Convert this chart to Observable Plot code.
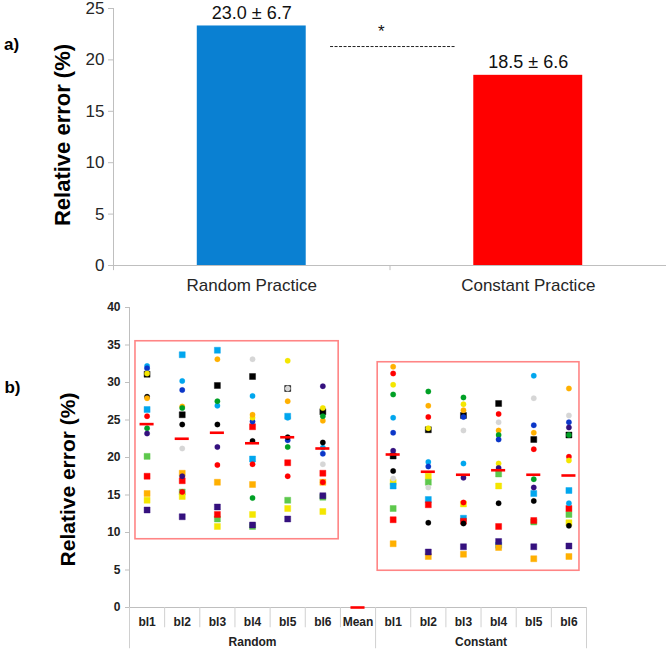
<!DOCTYPE html>
<html><head><meta charset="utf-8">
<script src="https://cdn.jsdelivr.net/npm/d3@7"></script>
<script src="https://cdn.jsdelivr.net/npm/@observablehq/plot@0.6"></script>
<style>
body{margin:0;background:#fff}
#wrap{position:relative;width:666px;height:651px;overflow:hidden;background:#fff}
#top{position:absolute;left:0;top:0}
#bot{position:absolute;left:0;top:300px}
</style>
</head><body>
<div id="wrap"><div id="top"></div><div id="bot"></div></div>
<script>
// ---------- Panel a) data ----------
const topCategories = ["Random Practice", "Constant Practice"];
const topValues = [23.3, 18.5];
const topLabels = ["23.0 \u00b1 6.7", "18.5 \u00b1 6.6"];
const topTicks = [0, 5, 10, 15, 20, 25];
const sigLevel = 21.3;

// ---------- Panel b) data ----------
const blocks = ["bl1", "bl2", "bl3", "bl4", "bl5", "bl6"];
const groups = ["Random", "Constant"];
const botTicks = [0, 5, 10, 15, 20, 25, 30, 35, 40];
const randomMeans = [24.45, 22.5, 23.3, 21.9, 22.7, 21.2];
const constantMeans = [20.4, 18.1, 17.7, 18.3, 17.7, 17.6];

// Random practice participants (per block bl1..bl6)
const rLBc = [32.2, 30.2, 26.9, 28.2, 25.3, 21.3];
const rBc  = [31.9, 29.0, null, 24.8, 22.3, 20.5];
const rKs  = [31.1, 25.7, 29.6, 30.8, 29.2, 26.1];
const rYc  = [31.2, null, null, 25.3, 32.9, 26.6];
const rKc  = [28.1, 24.4, 24.4, 22.2, 22.7, 22.0];
const rOc  = [27.9, 26.8, 33.1, 25.7, 27.5, 24.9];
const rLBs = [26.4, 33.7, 34.3, 19.8, 25.5, null];
const rRc  = [25.5, 15.4, 19.0, 19.1, 17.5, 16.7];
const rGc  = [23.9, 26.6, 27.5, 14.6, 21.4, 25.5];
const rPc  = [23.2, 17.5, 21.4, null, null, 29.5];
const rGYc = [null, 21.2, null, 33.1, 29.2, 19.1];
const rLGs = [20.15, 15.4, 11.8, 10.8, 14.3, 14.7];
const rRs  = [17.5, 16.9, 12.4, 24.1, 19.3, 17.9];
const rOs  = [15.2, 17.9, 16.7, 16.4, null, 16.7];
const rYs  = [14.3, 14.8, 10.8, 12.4, 13.2, 12.8];
const rPs  = [13.0, 12.1, 13.4, 11.0, 11.8, 14.9];

// Constant practice participants (per block bl1..bl6)
const cOc  = [32.1, 26.9, 26.3, 23.6, 23.3, 29.2];
const cRc  = [31.2, 25.4, 14.0, 25.8, 21.1, 20.1];
const cYc  = [29.7, 23.9, 27.1, 19.2, null, 19.6];
const cGc  = [28.4, 28.8, 28.0, 23.0, 17.1, 23.0];
const cLBc = [25.3, 19.4, 19.2, null, 30.9, 13.9];
const cBc  = [23.3, 18.8, 25.4, 22.4, 24.3, 24.7];
const cPc  = [20.9, null, 17.3, 18.6, 16.0, 24.0];
const cKs  = [20.2, 23.7, 25.6, 27.2, 22.4, 23.0];
const cKc  = [18.2, 11.3, 11.2, 13.9, 14.2, 10.9];
const cGYc = [17.2, 16.0, 23.6, 24.7, 27.9, 25.6];
const cYs  = [16.7, 17.5, 13.8, 16.2, null, 11.3];
const cLBs = [16.2, 14.4, 11.9, 8.3, 15.2, 15.6];
const cLGs = [13.2, 16.7, null, 17.8, 11.4, 12.4];
const cRs  = [11.7, 13.7, 11.5, 10.8, 11.6, 13.2];
const cOs  = [8.5, 6.8, 7.1, 8.0, 6.5, 6.8];
const cPs  = [null, 7.4, 8.1, 8.8, 8.1, 8.2];

// ---------- styling ----------
const palette = {LB:"#00A6EE", B:"#0B36C8", P:"#34107E", K:"#000000", GY:"#D6D6D6",
  Y:"#F4E600", O:"#FFB000", R:"#FF0000", G:"#00A025", LG:"#5DC84C"};
const markerColor = {
  LBc:palette.LB, Bc:palette.B, Ks:palette.K, Yc:palette.Y, Kc:palette.K, Oc:palette.O,
  LBs:palette.LB, Rc:palette.R, Gc:palette.G, Pc:palette.P, GYc:palette.GY, LGs:palette.LG,
  Rs:palette.R, Os:palette.O, Ys:palette.Y, Ps:palette.P
};
const randomSeries = {LBc:rLBc,Bc:rBc,Ks:rKs,Yc:rYc,Kc:rKc,Oc:rOc,LBs:rLBs,Rc:rRc,Gc:rGc,Pc:rPc,GYc:rGYc,LGs:rLGs,Rs:rRs,Os:rOs,Ys:rYs,Ps:rPs};
const constantSeries = {Oc:cOc,Rc:cRc,Yc:cYc,Gc:cGc,LBc:cLBc,Bc:cBc,Pc:cPc,Ks:cKs,Kc:cKc,GYc:cGYc,Ys:cYs,LBs:cLBs,LGs:cLGs,Rs:cRs,Os:cOs,Ps:cPs};

const points = [];
for (const [g, series, offset] of [["Random", randomSeries, 0], ["Constant", constantSeries, 7]]) {
  for (const [id, vals] of Object.entries(series)) {
    vals.forEach((v, i) => {
      if (v != null) points.push({group:g, id, x: offset + i + 0.5, v,
        shape: id.endsWith("s") ? "square" : "circle", color: markerColor[id]});
    });
  }
}
const squares = points.filter(d => d.shape === "square");
const circles = points.filter(d => d.shape === "circle");

const meanData = [
  ...randomMeans.map((v, i) => ({x: i + 0.5, v})),
  {x: 6.5, v: 0},
  ...constantMeans.map((v, i) => ({x: 7 + i + 0.5, v}))
];
const columnLabels = [...blocks, "Mean", ...blocks];
const groupData = [{g: groups[0], x: 3.5}, {g: groups[1], x: 10}];

const font = "Liberation Sans, Arial, Helvetica, sans-serif";
const axisGray = "#BFBFBF";

// ---------- Panel a) ----------
const topData = topCategories.map((c, i) => ({c, i, v: topValues[i], label: topLabels[i],
  color: i === 0 ? "#0A80D2" : "#FF0000"}));

const topPlot = Plot.plot({
  width: 666, height: 300, marginTop: 8, marginBottom: 35, marginLeft: 113, marginRight: 0,
  style: {fontFamily: font, overflow: "visible", background: "transparent", color: "#262626"},
  x: {domain: [0, 2], axis: null},
  y: {domain: [0, 25], axis: null, label: null},
  marks: [
    Plot.rectY(topData, {x1: d => d.i + 0.5 - 0.197, x2: d => d.i + 0.5 + 0.197, y: "v", fill: "color"}),
    Plot.ruleX([0], {y1: 0, y2: 25, stroke: axisGray}),
    Plot.ruleY([0], {x1: 0, x2: 2, stroke: axisGray}),
    Plot.ruleX([0, 1, 2], {y1: 0, y2: -0.5, stroke: axisGray}),
    Plot.axisY(topTicks, {tickSize: 5, tickPadding: 4, fontSize: 17, stroke: axisGray, fill: "#262626", label: null}),
    Plot.text(topData, {x: d => d.i + 0.5, y: 0, text: "c", dy: 20, fontSize: 17, fill: "#262626"}),
    Plot.text(topData, {x: d => d.i + 0.5, y: "v", text: "label", dy: -13, fontSize: 18,
      fontFamily: "Liberation Sans Narrow, Liberation Sans, Arial, sans-serif", fill: "#111"}),
    Plot.ruleY([sigLevel], {x1: 0.785, x2: 1.237, stroke: "#222", strokeDasharray: "3,1.5", strokeWidth: 1}),
    Plot.text(["*"], {x: [0.969], y: [sigLevel], dy: -15, fontSize: 17, fill: "#111"}),
    Plot.text(["Relative error (%)"], {frameAnchor: "left", textAnchor: "middle", dx: -51, dy: -2, rotate: -90, fontSize: 22, fontWeight: "bold", fill: "#000"}),
    Plot.text(["a)"], {frameAnchor: "top-left", textAnchor: "middle", dx: -102, dy: 29, fontSize: 17, fontWeight: "bold", fill: "#000"})
  ]
});
document.getElementById("top").appendChild(topPlot);

// ---------- Panel b) ----------
const boxes = [{x1: 0.17, x2: 5.95, y1: 9.1, y2: 35.5}, {x1: 7.06, x2: 12.8, y1: 4.9, y2: 32.7}];
const botPlot = Plot.plot({
  width: 666, height: 351, marginTop: 7, marginBottom: 44, marginLeft: 129, marginRight: 80,
  style: {fontFamily: font, overflow: "visible", background: "transparent", color: "#222"},
  x: {domain: [0, 13], axis: null},
  y: {domain: [0, 40], axis: null, label: null},
  marks: [
    Plot.rect(boxes, {x1: "x1", x2: "x2", y1: "y1", y2: "y2", fill: "none", stroke: "#FF8585", strokeWidth: 1.6}),
    Plot.ruleX([0], {y1: 0, y2: 40, stroke: axisGray}),
    Plot.ruleY([0], {x1: 0, x2: 13, stroke: axisGray}),
    Plot.ruleX([1, 2, 3, 4, 5, 6, 8, 9, 10, 11, 12], {y1: 0, y2: -2.7, stroke: "#D0D0D0"}),
    Plot.ruleX([0, 7, 13], {y1: 0, y2: -5.5, stroke: "#D0D0D0"}),
    Plot.axisY(botTicks, {tickSize: 4, tickPadding: 5, fontSize: 12, fontWeight: "bold", stroke: axisGray, fill: "#222", label: null}),
    Plot.dot(squares, {x: "x", y: "v", symbol: "square", r: 3.4, fill: "color", stroke: "color", strokeOpacity: 0.5, strokeWidth: 0.8}),
    Plot.dot(circles, {x: "x", y: "v", symbol: "circle", r: 2.7, fill: "color", stroke: "color", strokeOpacity: 0.4, strokeWidth: 0.6}),
    Plot.ruleY(meanData, {x1: d => d.x - 0.2, x2: d => d.x + 0.2, y: "v", stroke: "#FF0000", strokeWidth: 2.6}),
    Plot.text(columnLabels, {x: (d, i) => i + 0.5, y: 0, text: d => d, dy: 15, fontSize: 12, fontWeight: "bold", fill: "#222"}),
    Plot.text(groupData, {x: "x", y: 0, text: "g", dy: 35, fontSize: 12, fontWeight: "bold", fill: "#222"}),
    Plot.text(["Relative error (%)"], {frameAnchor: "left", textAnchor: "middle", dx: -61, dy: 22, rotate: -90, fontSize: 21, fontWeight: "bold", fill: "#000"}),
    Plot.text(["b)"], {frameAnchor: "top-left", textAnchor: "middle", dx: -117, dy: 73, fontSize: 17, fontWeight: "bold", fill: "#000"})
  ]
});
document.getElementById("bot").appendChild(botPlot);
</script>
</body></html>
